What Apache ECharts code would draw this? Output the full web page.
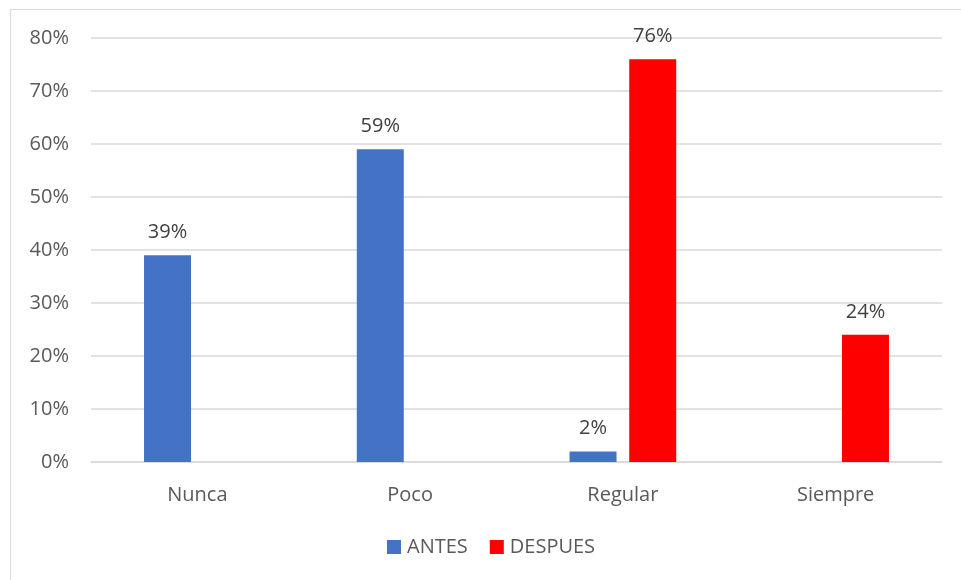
<!DOCTYPE html>
<html>
<head>
<meta charset="utf-8">
<script src="https://cdn.jsdelivr.net/npm/echarts@6/dist/echarts.min.js"></script>
<style>
  html, body { margin: 0; padding: 0; background: #fff; }
  #frame { position: absolute; left: 10px; top: 9px; width: 1000px; height: 620px;
           border-left: 1.5px solid #d9d9d9; border-top: 1.5px solid #d9d9d9; box-sizing: border-box; }
  #chart { position: absolute; left: 0; top: 0; width: 961px; height: 580px; }
</style>
</head>
<body>
<div id="frame"></div>
<div id="chart"></div>
<script>
// Survey answers before and after, in percent
const categories = ['Nunca', 'Poco', 'Regular', 'Siempre'];
const antes = [39, 59, 2, 0];
const despues = [0, 0, 76, 24];
const yTicks = [0, 10, 20, 30, 40, 50, 60, 70, 80];

const FONT = '"Open Sans", "Noto Sans", sans-serif';
const FS = 20;

const labelCfg = {
  show: true,
  position: 'top',
  distance: 13,
  color: '#404040',
  fontSize: FS,
  fontFamily: FONT,
  formatter: p => (p.value ? p.value + '%' : '')
};

const chart = echarts.init(document.getElementById('chart'), null, { renderer: 'canvas' });
chart.setOption({
  animation: false,
  backgroundColor: 'transparent',
  grid: { left: 91, right: 19, top: 38, bottom: 118, containLabel: false },
  legend: {
    bottom: 18,
    left: 382,
    itemWidth: 14,
    itemHeight: 14,
    itemGap: 22,
    icon: 'rect',
    textStyle: { color: '#595959', fontSize: FS, fontFamily: FONT, padding: [0, 0, 0, 1] },
    data: ['ANTES', 'DESPUES']
  },
  xAxis: {
    type: 'category',
    data: categories,
    axisLine: { lineStyle: { color: '#d9d9d9', width: 1.5 } },
    axisTick: { show: false },
    axisLabel: { color: '#595959', fontSize: FS, fontFamily: FONT, margin: 23 }
  },
  yAxis: {
    type: 'value',
    min: yTicks[0],
    max: yTicks[yTicks.length - 1],
    interval: 10,
    axisLine: { show: false },
    axisTick: { show: false },
    splitLine: { lineStyle: { color: '#d9d9d9', width: 1.5 } },
    axisLabel: { color: '#595959', fontSize: FS, fontFamily: FONT, margin: 22, formatter: '{value}%' }
  },
  series: [
    {
      name: 'ANTES', type: 'bar', data: antes,
      barWidth: 47, barGap: '27%',
      itemStyle: { color: '#4472c4' },
      label: labelCfg
    },
    {
      name: 'DESPUES', type: 'bar', data: despues,
      barWidth: 47,
      itemStyle: { color: '#ff0000' },
      label: labelCfg
    }
  ]
});
</script>
</body>
</html>
